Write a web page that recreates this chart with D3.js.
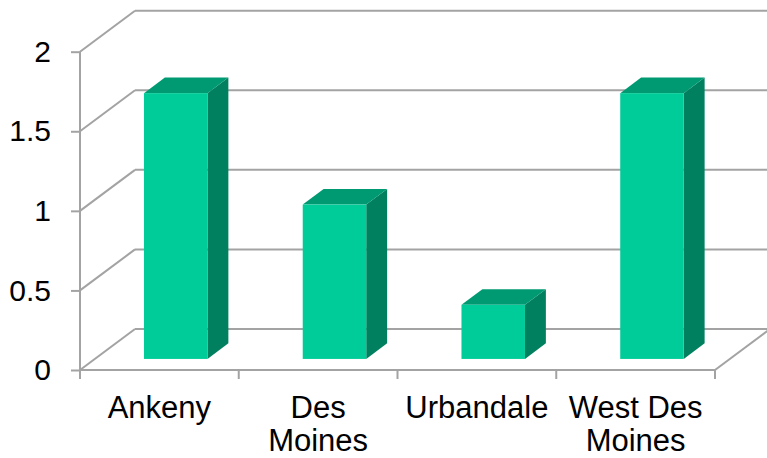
<!DOCTYPE html>
<html>
<head>
<meta charset="utf-8">
<script src="https://cdn.jsdelivr.net/npm/d3@7"></script>
<style>
  html, body { margin: 0; padding: 0; background: #fff; }
  svg { display: block; font-family: "Liberation Sans", Arial, sans-serif; }
</style>
</head>
<body>
<svg id="chart" width="767" height="458"></svg>
<script>
// Chart data
const categories = ["Ankeny", "Des Moines", "Urbandale", "West Des Moines"];
const values = [1.67, 0.97, 0.34, 1.67];
const yTicks = [0, 0.5, 1, 1.5, 2];
const yTickLabels = ["0", "0.5", "1", "1.5", "2"];

// Layout and style
const W = 767, H = 458;
const plot = { left: 80, right: 715, top: 51.7, bottom: 370 };
const depth = { dx: 55, dy: 41 };          // oblique offset of the back wall
const barDepth = { f0: 0.27, f1: 0.65 };   // bar position within the depth
const barNudge = 1.5;                      // small horizontal shift of the bar prisms
const colors = { front: "#00CC99", top: "#009A72", side: "#00805F", grid: "#a3a3a3", text: "#000" };
const tickFont = 30, labelFont = 31;

const svg = d3.select("#chart");

const x = d3.scaleBand()
  .domain(categories)
  .range([plot.left, plot.right])
  .paddingInner(0.6)
  .paddingOuter(0.3);

const y = d3.scaleLinear().domain([0, 2]).range([plot.bottom, plot.top]);

const off = f => [f * depth.dx, -f * depth.dy];

// Walls: grid lines on the back wall and the left side wall
const grid = svg.append("g")
  .attr("fill", "none")
  .attr("stroke", colors.grid)
  .attr("stroke-width", 2);

yTicks.forEach(v => {
  const [bx, by] = off(1);
  grid.append("line")
    .attr("x1", plot.left).attr("y1", y(v))
    .attr("x2", plot.left + bx).attr("y2", y(v) + by);
  grid.append("line")
    .attr("x1", plot.left + bx).attr("y1", y(v) + by)
    .attr("x2", plot.right + bx + 10).attr("y2", y(v) + by);
});

// Floor right edge
grid.append("line")
  .attr("x1", plot.right).attr("y1", y(0))
  .attr("x2", plot.right + depth.dx).attr("y2", y(0) - depth.dy);

// Value axis (front left edge) with ticks
const yAxis = d3.axisLeft(y)
  .tickValues(yTicks)
  .tickSize(9)
  .tickPadding(20)
  .tickFormat((d, i) => yTickLabels[i]);

const gy = svg.append("g")
  .attr("transform", `translate(${plot.left},0)`)
  .call(yAxis);
gy.select(".domain").attr("stroke", colors.grid).attr("stroke-width", 2)
  .attr("d", `M0,${plot.top}V${plot.bottom}`);
gy.selectAll(".tick line").attr("stroke", colors.grid).attr("stroke-width", 2);
gy.selectAll(".tick text")
  .attr("fill", colors.text)
  .style("font-size", tickFont + "px")
  .style("font-family", "'Liberation Sans', Arial, sans-serif");

// Category axis (front floor edge) with boundary ticks
const boundaries = d3.range(categories.length + 1)
  .map(i => plot.left + i * (plot.right - plot.left) / categories.length);
const gx = svg.append("g");
gx.append("line")
  .attr("x1", plot.left).attr("y1", plot.bottom)
  .attr("x2", plot.right).attr("y2", plot.bottom)
  .attr("stroke", colors.grid).attr("stroke-width", 2);
gx.selectAll("line.tick").data(boundaries).join("line")
  .attr("class", "tick")
  .attr("x1", d => d).attr("x2", d => d)
  .attr("y1", plot.bottom).attr("y2", plot.bottom + 9)
  .attr("stroke", colors.grid).attr("stroke-width", 2);

// 3D bars
const bars = svg.append("g");
categories.forEach((c, i) => {
  const v = values[i];
  const [fx, fy] = off(barDepth.f0);
  const [bx, by] = off(barDepth.f1);
  const x0 = x(c) + fx + barNudge, x1 = x(c) + x.bandwidth() + fx + barNudge;
  const yt = y(v) + fy, yb = y(0) + fy;
  const sdx = bx - fx, sdy = by - fy;
  const g = bars.append("g");
  // side face
  g.append("path")
    .attr("d", `M${x1},${yt}L${x1 + sdx},${yt + sdy}L${x1 + sdx},${yb + sdy}L${x1},${yb}Z`)
    .attr("fill", colors.side);
  // top face
  g.append("path")
    .attr("d", `M${x0},${yt}L${x0 + sdx},${yt + sdy}L${x1 + sdx},${yt + sdy}L${x1},${yt}Z`)
    .attr("fill", colors.top);
  // front face
  g.append("rect")
    .attr("x", x0).attr("y", yt)
    .attr("width", x1 - x0).attr("height", yb - yt)
    .attr("fill", colors.front);
});

// Category labels, wrapped to the category width
const labelG = svg.append("g")
  .attr("fill", colors.text)
  .style("font-size", labelFont + "px")
  .attr("text-anchor", "middle");
const catWidth = (plot.right - plot.left) / categories.length;
const maxWidth = catWidth - 8;
categories.forEach((c, i) => {
  const cx = boundaries[i] + catWidth / 2;
  const text = labelG.append("text").attr("x", cx).attr("y", 418);
  const words = c.split(" ");
  let line = [];
  let lineNo = 0;
  let tspan = text.append("tspan").attr("x", cx).attr("y", 418);
  words.forEach(w => {
    line.push(w);
    tspan.text(line.join(" "));
    if (tspan.node().getComputedTextLength() > maxWidth && line.length > 1) {
      line.pop();
      tspan.text(line.join(" "));
      line = [w];
      lineNo += 1;
      tspan = text.append("tspan").attr("x", cx).attr("y", 418 + lineNo * 33).text(w);
    }
  });
});
</script>
</body>
</html>
